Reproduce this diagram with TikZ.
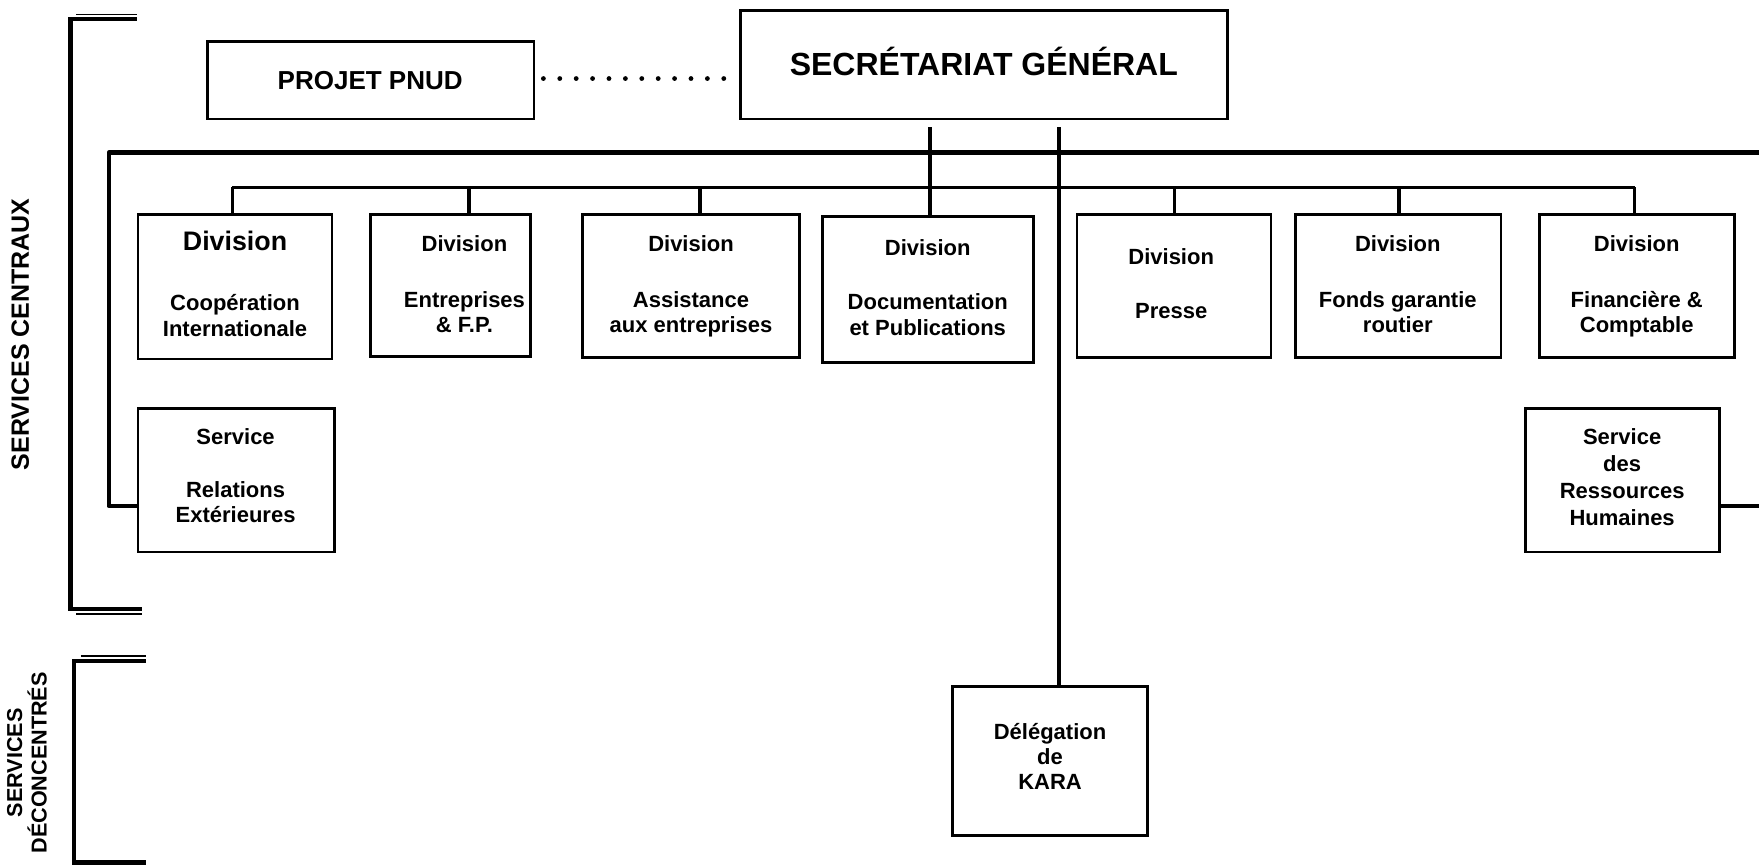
\documentclass[tikz,border=0pt]{standalone}
\usepackage{fontspec}
\setmainfont{Liberation Sans}
\usetikzlibrary{calc}
\newcommand{\orgbox}[5]{%
  \node[box, minimum width={(#4-#2)*0.5609pt}, minimum height={(#5-#3)*0.5609pt}] (#1) at ({(#2+#4)/2},{(#3+#5)/2}) {};}
\begin{document}
\begin{tikzpicture}[x=0.5609pt,y=-0.5609pt,
  box/.style={draw, line width=1.4pt, inner sep=0pt, fill=white},
  txt/.style={font=\bfseries\fontsize{11}{13}\selectfont, inner sep=0pt, anchor=center, text height=8pt, text depth=0pt},
  bigtxt/.style={font=\bfseries\fontsize{13.4}{15}\selectfont, inner sep=0pt, anchor=center, text height=9.7pt, text depth=0pt},
  titletxt/.style={font=\bfseries\fontsize{16}{18}\selectfont, inner sep=0pt, anchor=center, text height=11.5pt, text depth=0pt},
  pnudtxt/.style={font=\bfseries\fontsize{13}{15}\selectfont, inner sep=0pt, anchor=center, text height=9.4pt, text depth=0pt},
  sidetxt/.style={font=\bfseries\fontsize{12.5}{14}\selectfont, inner sep=0pt, rotate=90, anchor=center},
  side2txt/.style={font=\bfseries\fontsize{10.8}{12.3}\selectfont, inner sep=0pt, rotate=90, anchor=center, align=center},
  mainline/.style={line width=2.2pt},
  busline/.style={line width=1.6pt},
  brk/.style={line width=2.2pt},
  brkthin/.style={line width=0.9pt},
  dotline/.style={line width=2.4pt, line cap=round, dash pattern=on 0pt off 8.2pt}]
\useasboundingbox (0,0) rectangle (1568,771);

% brackets
\draw[brk] (122,17) -- (63,17) -- (63,543) -- (127,543);
\draw[brkthin] (68,13) -- (122,13);
\draw[brkthin] (68,547) -- (127,547);
\draw[brk] (130,589) -- (66,589) -- (66,771);
\draw[brkthin] (72,585) -- (130,585);
\draw[brk] (66,769) -- (130,769);

% side labels
\node[sidetxt] (lcentraux) at (18,298) {SERVICES CENTRAUX};
\node[side2txt] (ldecon) at (24,680) {SERVICES\\DÉCONCENTRÉS};

% top boxes
\orgbox{pnud}{185}{37}{476}{106}
\node[pnudtxt] (tpnud) at (330,71) {PROJET PNUD};
\orgbox{sg}{660}{9}{1094}{106}
\node[titletxt] (tsg) at (877,57) {SECRÉTARIAT GÉNÉRAL};

% divisions
\orgbox{d1}{123}{191}{296}{320}
\orgbox{d2}{330}{191}{473}{318}
\orgbox{d3}{519}{191}{713}{319}
\orgbox{d4}{733}{193}{921}{323}
\orgbox{d5}{960}{191}{1133}{319}
\orgbox{d6}{1155}{191}{1338}{319}
\orgbox{d7}{1372}{191}{1546}{319}

\node[bigtxt] (t1a) at (209.5,215) {Division};
\node[txt] (t1b) at (209.5,270) {Coopération};
\node[txt] (t1c) at (209.5,293) {Internationale};

\node[txt] (t2a) at (414,217) {Division};
\node[txt] (t2b) at (414,267) {Entreprises};
\node[txt] (t2c) at (414,289) {\& F.P.};

\node[txt] (t3a) at (616,217) {Division};
\node[txt] (t3b) at (616,267) {Assistance};
\node[txt] (t3c) at (616,289) {aux entreprises};

\node[txt] (t4a) at (827,221) {Division};
\node[txt] (t4b) at (827,269) {Documentation};
\node[txt] (t4c) at (827,292) {et Publications};

\node[txt] (t5a) at (1044,229) {Division};
\node[txt] (t5b) at (1044,277) {Presse};

\node[txt] (t6a) at (1246,217) {Division};
\node[txt] (t6b) at (1246,267) {Fonds garantie};
\node[txt] (t6c) at (1246,289) {routier};

\node[txt] (t7a) at (1459,217) {Division};
\node[txt] (t7b) at (1459,267) {Financière \&};
\node[txt] (t7c) at (1459,289) {Comptable};

% services
\orgbox{sre}{123}{364}{298}{492}
\node[txt] (tsa) at (210,389) {Service};
\node[txt] (tsb) at (210,436) {Relations};
\node[txt] (tsc) at (210,459) {Extérieures};

\orgbox{srh}{1360}{364}{1533}{492}
\node[txt] (tra) at (1446,389) {Service};
\node[txt] (trb) at (1446,413) {des};
\node[txt] (trc) at (1446,437) {Ressources};
\node[txt] (trd) at (1446,461) {Humaines};

% delegation
\orgbox{kara}{849}{612}{1023}{745}
\node[txt] (tka) at (936,652) {Délégation};
\node[txt] (tkb) at (936,674) {de};
\node[txt] (tkc) at (936,697) {KARA};

% connectors
\draw[dotline, shorten <=4pt, shorten >=2.5pt] (pnud.east |- 0,70) -- (sg.west |- 0,70);

\coordinate (busL) at (97,136);
\coordinate (busR) at (1568,136);
\coordinate (sreIn) at (123,451);
\draw[mainline, line join=round] (busR) -- (busL) -- (busL |- sreIn) -- (sreIn);
\coordinate (rhR) at (1568,451);
\draw[mainline] (srh.east |- rhR) -- (rhR);

\coordinate (b1) at (207,167);
\coordinate (b2) at (418,167);
\coordinate (b3) at (624,167);
\coordinate (b5) at (1047,167);
\coordinate (b6) at (1247,167);
\coordinate (b7) at (1457,167);
\draw[busline] (b1) -- (b7);
\draw[busline] (b1) -- (b1 |- d1.north);
\draw[busline] (b2) -- (b2 |- d2.north);
\draw[busline] (b3) -- (b3 |- d3.north);
\draw[busline] (b5) -- (b5 |- d5.north);
\draw[busline] (b6) -- (b6 |- d6.north);
\draw[busline] (b7) -- (b7 |- d7.north);

\coordinate (x4) at (829,0);
\coordinate (xk) at (944,0);
\draw[busline, shorten <=3.5pt] (sg.south -| x4) -- (d4.north -| x4);
\draw[busline, shorten <=3.5pt] (sg.south -| xk) -- (kara.north -| xk);
\end{tikzpicture}
\end{document}
